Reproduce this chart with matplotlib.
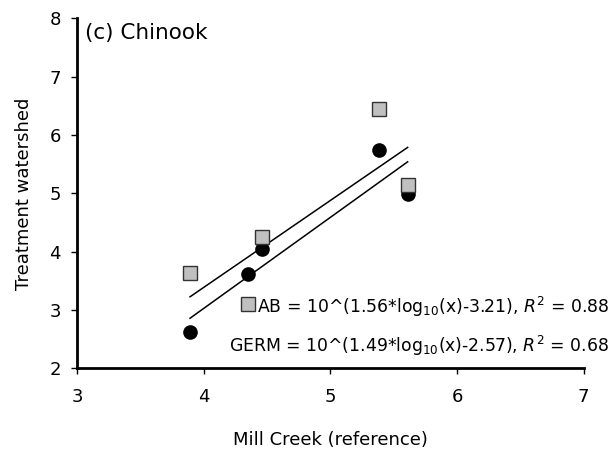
import matplotlib
matplotlib.use("Agg")
import matplotlib.pyplot as plt
import numpy as np

plt.rcParams['font.family'] = ['DejaVu Sans']
plt.rcParams['mathtext.fontset'] = 'dejavusans'

# Data (log10 values)
mill_creek = [3.89, 4.35, 4.46, 5.38, 5.61]
ab_values = [2.63, 3.61, 4.04, 5.74, 4.99]
germ_values = [3.64, 3.11, 4.25, 6.45, 5.14]

# Regression coefficients (log-log fits)
ab_slope, ab_intercept, ab_r2 = 1.56, -3.21, 0.88
germ_slope, germ_intercept, germ_r2 = 1.49, -2.57, 0.68

x_ticks = [3, 4, 5, 6, 7]
y_ticks = [2, 3, 4, 5, 6, 7, 8]

fig = plt.figure(figsize=(6.13, 4.51), dpi=100)
ax = fig.add_axes([0.1263, 0.1834, 0.8256, 0.7756])

xs = np.array([min(mill_creek), max(mill_creek)])
ax.plot(xs, ab_slope * xs + ab_intercept, color='black', lw=1.1, zorder=2)
ax.plot(xs, germ_slope * xs + germ_intercept, color='black', lw=1.1, zorder=2)

ax.plot(mill_creek, ab_values, 'o', color='black', markersize=9.5, zorder=3)
ax.plot(mill_creek, germ_values, 's', markerfacecolor='#c0c0c0',
        markeredgecolor='#333333', markeredgewidth=1.0, markersize=9.5, zorder=4)

ax.set_xlim(3, 7)
ax.set_ylim(2, 8)
ax.set_xticks(x_ticks)
ax.set_yticks(y_ticks)
ax.tick_params(direction='out', length=4, width=1, labelsize=13, pad=8)
ax.tick_params(axis='x', pad=10)
for s in ['top', 'right']:
    ax.spines[s].set_visible(False)
for s in ['left', 'bottom']:
    ax.spines[s].set_linewidth(2)

ax.set_xlabel('Mill Creek (reference)', fontsize=13, labelpad=18)
ax.set_ylabel('Treatment watershed', fontsize=13, labelpad=12)

ax.text(0.015, 0.958, '(c) Chinook', transform=ax.transAxes, fontsize=15.5,
        ha='left', va='center')

ab_txt = r'AB = 10^(%.2f*log$_{10}$(x)%.2f), $\mathit{R}^{2}$ = %.2f' % (ab_slope, ab_intercept, ab_r2)
germ_txt = r'GERM = 10^(%.2f*log$_{10}$(x)%.2f), $\mathit{R}^{2}$ = %.2f' % (germ_slope, germ_intercept, germ_r2)
ax.text(7.2, 2.95, ab_txt, fontsize=12.4, ha='right', va='baseline', clip_on=False)
ax.text(7.2, 2.28, germ_txt, fontsize=12.4, ha='right', va='baseline', clip_on=False)

fig.savefig('out.png', dpi=100)
